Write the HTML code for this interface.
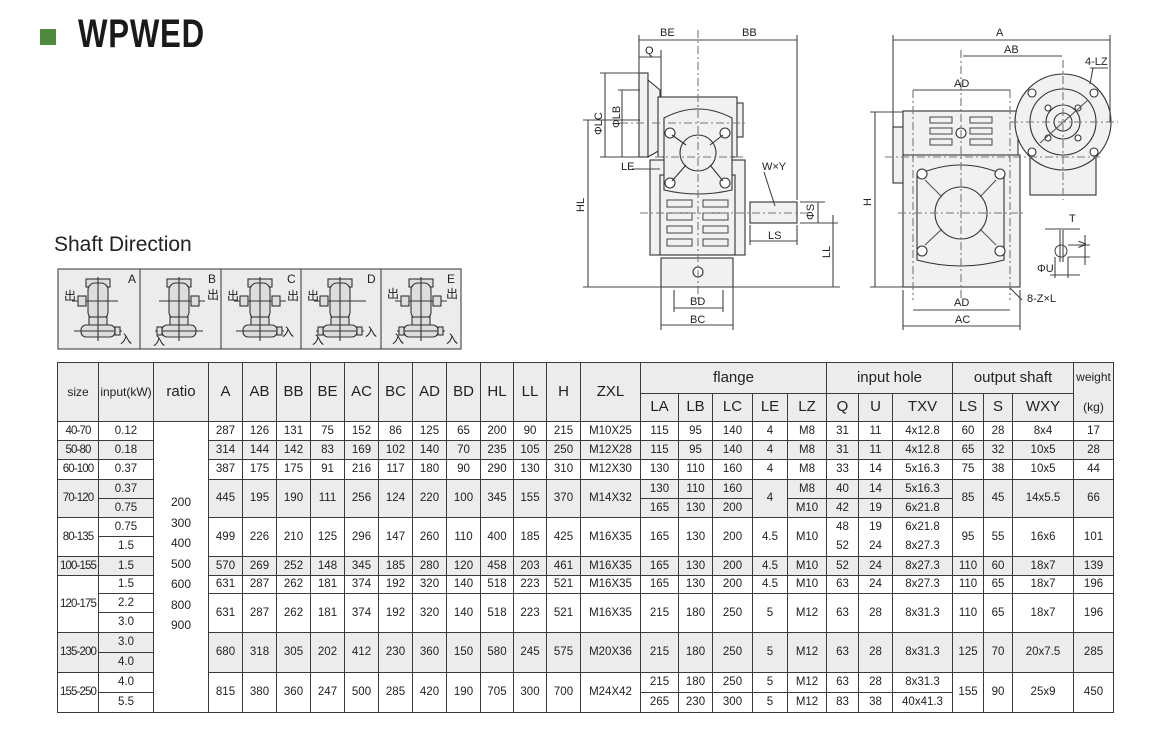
<!DOCTYPE html>
<html><head><meta charset="utf-8"><style>
*{margin:0;padding:0;box-sizing:border-box}
body{width:1150px;height:734px;background:#fff;position:relative;overflow:hidden;font-family:"Liberation Sans","Noto Sans CJK SC",sans-serif;color:#222}
.sq{position:absolute;left:40px;top:29px;width:16px;height:16px;background:#4e8a3e}
.title{position:absolute;left:78px;top:12px;font-size:40px;font-weight:bold;transform:scaleX(0.78);transform-origin:left top;letter-spacing:1px;color:#1a1a1a}
.sd{position:absolute;left:54px;top:233px;font-size:21px;color:#222}
table{position:absolute;left:57px;top:362px;border-collapse:collapse;table-layout:fixed;width:1056px}
td,th{border:1px solid #3a3a3a;text-align:center;font-size:11.5px;font-weight:normal;line-height:1.25;padding:0;overflow:hidden;white-space:nowrap}
th{background:#ececec;font-size:15px}
th.s{font-size:12px}
td.z{font-size:11.5px;letter-spacing:-0.9px}
tr.g td{background:#ececec}
td.r{background:#fff!important;vertical-align:top;padding-top:70px;font-size:12px;line-height:20.5px}
svg{position:absolute;left:0;top:0}
</style></head><body>
<div class="sq"></div>
<div class="title">WPWED</div>
<div class="sd">Shaft Direction</div>

<svg width="1150" height="360" viewBox="0 0 1150 360" font-family="Liberation Sans, Noto Sans CJK SC, sans-serif" font-size="11" fill="none" stroke="#333" stroke-width="1.1">
<rect x="58" y="269" width="403" height="80" fill="#ececec" stroke="#444"/>
<g stroke="#444"><line x1="140" y1="269" x2="140" y2="349"/><line x1="221" y1="269" x2="221" y2="349"/><line x1="301" y1="269" x2="301" y2="349"/><line x1="381" y1="269" x2="381" y2="349"/></g>
<defs>
<g id="ico">
<rect x="-12" y="0" width="24" height="8" fill="#ddd"/>
<rect x="-10" y="4" width="20" height="36" rx="7" fill="#ddd"/>
<rect x="-9" y="38" width="18" height="8" fill="#ddd"/>
<rect x="-17" y="46" width="34" height="12" rx="5" fill="#ddd"/>
<line x1="0" y1="-2" x2="0" y2="62"/>
</g>
</defs>
<g transform="translate(98,279)"><use href="#ico"/><line x1="-26" y1="22" x2="20" y2="22"/><rect x="-20" y="17" width="8" height="10" fill="#ddd"/><line x1="-24" y1="52" x2="24" y2="52"/><rect x="17" y="48" width="5" height="8" fill="#ddd"/></g>
<g transform="translate(179,279)"><use href="#ico"/><line x1="-20" y1="22" x2="26" y2="22"/><rect x="12" y="17" width="8" height="10" fill="#ddd"/><line x1="-24" y1="52" x2="24" y2="52"/><rect x="-22" y="48" width="5" height="8" fill="#ddd"/></g>
<g transform="translate(260,279)"><use href="#ico"/><line x1="-26" y1="22" x2="26" y2="22"/><rect x="-20" y="17" width="8" height="10" fill="#ddd"/><rect x="12" y="17" width="8" height="10" fill="#ddd"/><line x1="-24" y1="52" x2="24" y2="52"/><rect x="17" y="48" width="5" height="8" fill="#ddd"/></g>
<g transform="translate(340,279)"><use href="#ico"/><line x1="-26" y1="22" x2="26" y2="22"/><rect x="-20" y="17" width="8" height="10" fill="#ddd"/><line x1="-24" y1="52" x2="24" y2="52"/><rect x="17" y="48" width="5" height="8" fill="#ddd"/><rect x="-22" y="48" width="5" height="8" fill="#ddd"/></g>
<g transform="translate(421,279)"><use href="#ico"/><line x1="-26" y1="22" x2="26" y2="22"/><rect x="-20" y="17" width="8" height="10" fill="#ddd"/><rect x="12" y="17" width="8" height="10" fill="#ddd"/><line x1="-24" y1="52" x2="24" y2="52"/><rect x="17" y="48" width="5" height="8" fill="#ddd"/><rect x="-22" y="48" width="5" height="8" fill="#ddd"/></g>
<g fill="#222" stroke="none" font-size="12">
<text x="128" y="283">A</text><text x="208" y="283">B</text><text x="287" y="283">C</text><text x="367" y="283">D</text><text x="447" y="283">E</text>
<text x="64" y="300">出</text><text x="120" y="343">入</text>
<text x="207" y="299">出</text><text x="153" y="345">入</text>
<text x="227" y="300">出</text><text x="287" y="300">出</text><text x="282" y="336">入</text>
<text x="307" y="300">出</text><text x="312" y="344">入</text><text x="365" y="336">入</text>
<text x="387" y="298">出</text><text x="446" y="298">出</text><text x="392" y="343">入</text><text x="446" y="343">入</text>
</g>

<!-- LEFT VIEW -->
<g fill="#f1f1f1">
<rect x="639" y="73" width="9" height="84"/>
<path d="M648 80 L660 90 L660 150 L648 157 Z"/>
<rect x="658" y="97" width="79" height="60"/>
<rect x="737" y="103" width="6" height="34"/>
<rect x="650" y="160" width="95" height="95"/>
<rect x="660" y="175" width="75" height="80"/>
<rect x="661" y="258" width="72" height="29"/>
<rect x="750" y="202" width="47" height="21"/>
<path d="M664 118 Q698 100 732 118 L732 190 Q698 198 664 190 Z"/>
</g>
<circle cx="698" cy="153" r="18" fill="#f1f1f1"/>
<g fill="#fff"><circle cx="670" cy="133" r="5"/><circle cx="725" cy="133" r="5"/><circle cx="670" cy="183" r="5"/><circle cx="725" cy="183" r="5"/><circle cx="698" cy="272" r="5"/></g>
<g><line x1="672" y1="135" x2="686" y2="145"/><line x1="723" y1="135" x2="710" y2="145"/><line x1="672" y1="181" x2="686" y2="165"/><line x1="723" y1="181" x2="710" y2="165"/></g>
<g stroke="#555">
<rect x="667" y="200" width="25" height="7"/><rect x="703" y="200" width="25" height="7"/>
<rect x="667" y="213" width="25" height="7"/><rect x="703" y="213" width="25" height="7"/>
<rect x="667" y="226" width="25" height="7"/><rect x="703" y="226" width="25" height="7"/>
<rect x="667" y="239" width="25" height="7"/><rect x="703" y="239" width="25" height="7"/>
</g>
<g stroke-dasharray="8,3,2,3" stroke="#777"><line x1="698" y1="30" x2="698" y2="300"/><line x1="620" y1="123" x2="745" y2="123"/><line x1="655" y1="157" x2="745" y2="157"/><line x1="640" y1="213" x2="810" y2="213"/></g>
<g stroke="#444">
<line x1="639" y1="35" x2="639" y2="73"/><line x1="797" y1="35" x2="797" y2="200"/><line x1="661" y1="50" x2="661" y2="97"/>
<line x1="639" y1="40" x2="797" y2="40"/><line x1="639" y1="57" x2="661" y2="57"/>
<line x1="583" y1="120" x2="640" y2="120"/><line x1="583" y1="287" x2="840" y2="287"/><line x1="588" y1="120" x2="588" y2="287"/>
<line x1="600" y1="73" x2="640" y2="73"/><line x1="600" y1="157" x2="640" y2="157"/><line x1="605" y1="73" x2="605" y2="157"/>
<line x1="618" y1="90" x2="640" y2="90"/><line x1="622" y1="90" x2="622" y2="157"/>
<line x1="632" y1="169" x2="660" y2="169"/>
<line x1="661" y1="287" x2="661" y2="330"/><line x1="733" y1="287" x2="733" y2="330"/><line x1="674" y1="290" x2="674" y2="312"/><line x1="723" y1="290" x2="723" y2="312"/>
<line x1="674" y1="308" x2="723" y2="308"/><line x1="661" y1="325" x2="733" y2="325"/>
<line x1="750" y1="225" x2="750" y2="245"/><line x1="750" y1="241" x2="797" y2="241"/><line x1="797" y1="225" x2="797" y2="245"/>
<line x1="800" y1="202" x2="825" y2="202"/><line x1="800" y1="223" x2="838" y2="223"/><line x1="818" y1="202" x2="818" y2="223"/>
<line x1="833" y1="215" x2="833" y2="287"/>
<line x1="764" y1="172" x2="775" y2="206"/>
</g>
<g fill="#222" stroke="none" font-size="11">
<text x="660" y="36">BE</text><text x="742" y="36">BB</text><text x="645" y="54">Q</text>
<text x="584" y="212" transform="rotate(-90 584 212)">HL</text>
<text x="602" y="135" transform="rotate(-90 602 135)">ΦLC</text>
<text x="620" y="128" transform="rotate(-90 620 128)">ΦLB</text>
<text x="621" y="170">LE</text><text x="762" y="170">W×Y</text>
<text x="768" y="239">LS</text><text x="814" y="220" transform="rotate(-90 814 220)">ΦS</text>
<text x="830" y="258" transform="rotate(-90 830 258)">LL</text>
<text x="690" y="305">BD</text><text x="690" y="323">BC</text>
</g>

<!-- RIGHT VIEW -->
<g fill="#f1f1f1">
<rect x="893" y="127" width="12" height="56"/>
<rect x="903" y="111" width="115" height="45"/>
<rect x="903" y="155" width="117" height="132"/>
<path d="M917 175 Q961 155 1004 175 L1004 260 Q961 272 917 260 Z"/>
<rect x="1030" y="155" width="66" height="40"/>
<circle cx="1063" cy="122" r="48"/>
</g>
<circle cx="961" cy="213" r="26" fill="#f1f1f1"/>
<circle cx="1063" cy="122" r="33" fill="#f1f1f1"/>
<circle cx="1063" cy="122" r="17"/><circle cx="1063" cy="122" r="9"/>
<g fill="#fff"><circle cx="922" cy="174" r="5"/><circle cx="1000" cy="174" r="5"/><circle cx="922" cy="251" r="5"/><circle cx="1000" cy="251" r="5"/><circle cx="961" cy="133" r="5"/>
<circle cx="1032" cy="93" r="4"/><circle cx="1094" cy="93" r="4"/><circle cx="1032" cy="152" r="4"/><circle cx="1094" cy="152" r="4"/>
<circle cx="1048" cy="108" r="3"/><circle cx="1078" cy="108" r="3"/><circle cx="1048" cy="138" r="3"/><circle cx="1078" cy="138" r="3"/></g>
<g stroke="#555"><rect x="930" y="117" width="22" height="6"/><rect x="970" y="117" width="22" height="6"/><rect x="930" y="128" width="22" height="6"/><rect x="970" y="128" width="22" height="6"/><rect x="930" y="139" width="22" height="6"/><rect x="970" y="139" width="22" height="6"/>
<line x1="925" y1="180" x2="942" y2="197"/><line x1="996" y1="180" x2="980" y2="197"/><line x1="925" y1="245" x2="942" y2="229"/><line x1="996" y1="245" x2="980" y2="229"/>
<line x1="1040" y1="143" x2="1088" y2="100"/></g>
<g stroke-dasharray="8,3,2,3" stroke="#777"><line x1="961" y1="50" x2="961" y2="300"/><line x1="1063" y1="60" x2="1063" y2="200"/><line x1="885" y1="157" x2="1100" y2="157"/><line x1="898" y1="213" x2="1025" y2="213"/><line x1="1010" y1="122" x2="1118" y2="122"/><line x1="913" y1="90" x2="913" y2="300"/><line x1="1010" y1="90" x2="1010" y2="300"/></g>
<g stroke="#444">
<line x1="893" y1="35" x2="893" y2="127"/><line x1="1110" y1="35" x2="1110" y2="122"/><line x1="893" y1="40" x2="1110" y2="40"/>
<line x1="963" y1="56" x2="1062" y2="56"/><line x1="913" y1="90" x2="1010" y2="90"/>
<line x1="870" y1="112" x2="903" y2="112"/><line x1="870" y1="287" x2="903" y2="287"/><line x1="875" y1="112" x2="875" y2="287"/>
<line x1="913" y1="310" x2="1010" y2="310"/><line x1="903" y1="290" x2="903" y2="330"/><line x1="1020" y1="290" x2="1020" y2="330"/><line x1="903" y1="326" x2="1020" y2="326"/>
<line x1="1010" y1="288" x2="1022" y2="300"/><line x1="1090" y1="68" x2="1108" y2="68"/><line x1="1093" y1="68" x2="1090" y2="84"/>
<circle cx="1061" cy="251" r="6" fill="#fff"/><line x1="1060" y1="230" x2="1060" y2="262"/><line x1="1063" y1="230" x2="1063" y2="262"/>
<line x1="1045" y1="229" x2="1080" y2="229"/><line x1="1068" y1="245" x2="1090" y2="245"/><line x1="1068" y1="257" x2="1090" y2="257"/><line x1="1085" y1="235" x2="1085" y2="265"/>
<line x1="1050" y1="275" x2="1080" y2="275"/><line x1="1055" y1="257" x2="1055" y2="278"/><line x1="1068" y1="257" x2="1068" y2="278"/>
</g>
<g fill="#222" stroke="none" font-size="11">
<text x="996" y="36">A</text><text x="1004" y="53">AB</text><text x="954" y="87">AD</text><text x="1085" y="65">4-LZ</text>
<text x="871" y="206" transform="rotate(-90 871 206)">H</text>
<text x="954" y="306">AD</text><text x="955" y="323">AC</text><text x="1027" y="302">8-Z×L</text>
<text x="1069" y="222">T</text><text x="1037" y="272">ΦU</text><text x="1086" y="248" transform="rotate(-90 1086 248)">V</text>
</g>
</svg>

<table>
<colgroup><col style="width:41px"><col style="width:55px"><col style="width:55px"><col style="width:34px"><col style="width:34px"><col style="width:34px"><col style="width:34px"><col style="width:34px"><col style="width:34px"><col style="width:34px"><col style="width:34px"><col style="width:33px"><col style="width:33px"><col style="width:34px"><col style="width:60px"><col style="width:38px"><col style="width:34px"><col style="width:40px"><col style="width:35px"><col style="width:39px"><col style="width:32px"><col style="width:34px"><col style="width:60px"><col style="width:31px"><col style="width:29px"><col style="width:61px"><col style="width:40px"></colgroup>
<tr style="height:31px"><th rowspan="2" class="s">size</th><th rowspan="2" class="s">input(kW)</th><th rowspan="2">ratio</th><th rowspan="2">A</th><th rowspan="2">AB</th><th rowspan="2">BB</th><th rowspan="2">BE</th><th rowspan="2">AC</th><th rowspan="2">BC</th><th rowspan="2">AD</th><th rowspan="2">BD</th><th rowspan="2">HL</th><th rowspan="2">LL</th><th rowspan="2">H</th><th rowspan="2">ZXL</th><th colspan="5">flange</th><th colspan="3">input hole</th><th colspan="3">output shaft</th><th rowspan="2" class="s">weight<br><br>(kg)</th></tr>
<tr style="height:28px"><th>LA</th><th>LB</th><th>LC</th><th>LE</th><th>LZ</th><th>Q</th><th>U</th><th>TXV</th><th>LS</th><th>S</th><th>WXY</th></tr>
<tr style="height:19px"><td class="z">40-70</td><td>0.12</td><td rowspan="15" class="r">200<br>300<br>400<br>500<br>600<br>800<br>900</td><td>287</td><td>126</td><td>131</td><td>75</td><td>152</td><td>86</td><td>125</td><td>65</td><td>200</td><td>90</td><td>215</td><td>M10X25</td><td>115</td><td>95</td><td>140</td><td>4</td><td>M8</td><td>31</td><td>11</td><td>4x12.8</td><td>60</td><td>28</td><td>8x4</td><td>17</td></tr>
<tr class="g" style="height:19px"><td class="z">50-80</td><td>0.18</td><td>314</td><td>144</td><td>142</td><td>83</td><td>169</td><td>102</td><td>140</td><td>70</td><td>235</td><td>105</td><td>250</td><td>M12X28</td><td>115</td><td>95</td><td>140</td><td>4</td><td>M8</td><td>31</td><td>11</td><td>4x12.8</td><td>65</td><td>32</td><td>10x5</td><td>28</td></tr>
<tr style="height:20px"><td class="z">60-100</td><td>0.37</td><td>387</td><td>175</td><td>175</td><td>91</td><td>216</td><td>117</td><td>180</td><td>90</td><td>290</td><td>130</td><td>310</td><td>M12X30</td><td>130</td><td>110</td><td>160</td><td>4</td><td>M8</td><td>33</td><td>14</td><td>5x16.3</td><td>75</td><td>38</td><td>10x5</td><td>44</td></tr>
<tr class="g" style="height:19px"><td rowspan="2" class="z">70-120</td><td>0.37</td><td rowspan="2">445</td><td rowspan="2">195</td><td rowspan="2">190</td><td rowspan="2">111</td><td rowspan="2">256</td><td rowspan="2">124</td><td rowspan="2">220</td><td rowspan="2">100</td><td rowspan="2">345</td><td rowspan="2">155</td><td rowspan="2">370</td><td rowspan="2">M14X32</td><td>130</td><td>110</td><td>160</td><td rowspan="2">4</td><td>M8</td><td>40</td><td>14</td><td>5x16.3</td><td rowspan="2">85</td><td rowspan="2">45</td><td rowspan="2">14x5.5</td><td rowspan="2">66</td></tr>
<tr class="g" style="height:19px"><td>0.75</td><td>165</td><td>130</td><td>200</td><td>M10</td><td>42</td><td>19</td><td>6x21.8</td></tr>
<tr style="height:19px"><td rowspan="2" class="z">80-135</td><td>0.75</td><td rowspan="2">499</td><td rowspan="2">226</td><td rowspan="2">210</td><td rowspan="2">125</td><td rowspan="2">296</td><td rowspan="2">147</td><td rowspan="2">260</td><td rowspan="2">110</td><td rowspan="2">400</td><td rowspan="2">185</td><td rowspan="2">425</td><td rowspan="2">M16X35</td><td rowspan="2">165</td><td rowspan="2">130</td><td rowspan="2">200</td><td rowspan="2">4.5</td><td rowspan="2">M10</td><td rowspan="2" style="line-height:19px">48<br>52</td><td rowspan="2" style="line-height:19px">19<br>24</td><td rowspan="2" style="line-height:19px">6x21.8<br>8x27.3</td><td rowspan="2">95</td><td rowspan="2">55</td><td rowspan="2">16x6</td><td rowspan="2">101</td></tr>
<tr style="height:20px"><td>1.5</td></tr>
<tr class="g" style="height:19px"><td class="z">100-155</td><td>1.5</td><td>570</td><td>269</td><td>252</td><td>148</td><td>345</td><td>185</td><td>280</td><td>120</td><td>458</td><td>203</td><td>461</td><td>M16X35</td><td>165</td><td>130</td><td>200</td><td>4.5</td><td>M10</td><td>52</td><td>24</td><td>8x27.3</td><td>110</td><td>60</td><td>18x7</td><td>139</td></tr>
<tr style="height:18px"><td rowspan="3" class="z">120-175</td><td>1.5</td><td>631</td><td>287</td><td>262</td><td>181</td><td>374</td><td>192</td><td>320</td><td>140</td><td>518</td><td>223</td><td>521</td><td>M16X35</td><td>165</td><td>130</td><td>200</td><td>4.5</td><td>M10</td><td>63</td><td>24</td><td>8x27.3</td><td>110</td><td>65</td><td>18x7</td><td>196</td></tr>
<tr style="height:19px"><td>2.2</td><td rowspan="2">631</td><td rowspan="2">287</td><td rowspan="2">262</td><td rowspan="2">181</td><td rowspan="2">374</td><td rowspan="2">192</td><td rowspan="2">320</td><td rowspan="2">140</td><td rowspan="2">518</td><td rowspan="2">223</td><td rowspan="2">521</td><td rowspan="2">M16X35</td><td rowspan="2">215</td><td rowspan="2">180</td><td rowspan="2">250</td><td rowspan="2">5</td><td rowspan="2">M12</td><td rowspan="2">63</td><td rowspan="2">28</td><td rowspan="2">8x31.3</td><td rowspan="2">110</td><td rowspan="2">65</td><td rowspan="2">18x7</td><td rowspan="2">196</td></tr>
<tr style="height:20px"><td>3.0</td></tr>
<tr class="g" style="height:20px"><td rowspan="2" class="z">135-200</td><td>3.0</td><td rowspan="2">680</td><td rowspan="2">318</td><td rowspan="2">305</td><td rowspan="2">202</td><td rowspan="2">412</td><td rowspan="2">230</td><td rowspan="2">360</td><td rowspan="2">150</td><td rowspan="2">580</td><td rowspan="2">245</td><td rowspan="2">575</td><td rowspan="2">M20X36</td><td rowspan="2">215</td><td rowspan="2">180</td><td rowspan="2">250</td><td rowspan="2">5</td><td rowspan="2">M12</td><td rowspan="2">63</td><td rowspan="2">28</td><td rowspan="2">8x31.3</td><td rowspan="2">125</td><td rowspan="2">70</td><td rowspan="2">20x7.5</td><td rowspan="2">285</td></tr>
<tr class="g" style="height:20px"><td>4.0</td></tr>
<tr style="height:20px"><td rowspan="2" class="z">155-250</td><td>4.0</td><td rowspan="2">815</td><td rowspan="2">380</td><td rowspan="2">360</td><td rowspan="2">247</td><td rowspan="2">500</td><td rowspan="2">285</td><td rowspan="2">420</td><td rowspan="2">190</td><td rowspan="2">705</td><td rowspan="2">300</td><td rowspan="2">700</td><td rowspan="2">M24X42</td><td>215</td><td>180</td><td>250</td><td>5</td><td>M12</td><td>63</td><td>28</td><td>8x31.3</td><td rowspan="2">155</td><td rowspan="2">90</td><td rowspan="2">25x9</td><td rowspan="2">450</td></tr>
<tr style="height:20px"><td>5.5</td><td>265</td><td>230</td><td>300</td><td>5</td><td>M12</td><td>83</td><td>38</td><td>40x41.3</td></tr>
</table>
</body></html>
